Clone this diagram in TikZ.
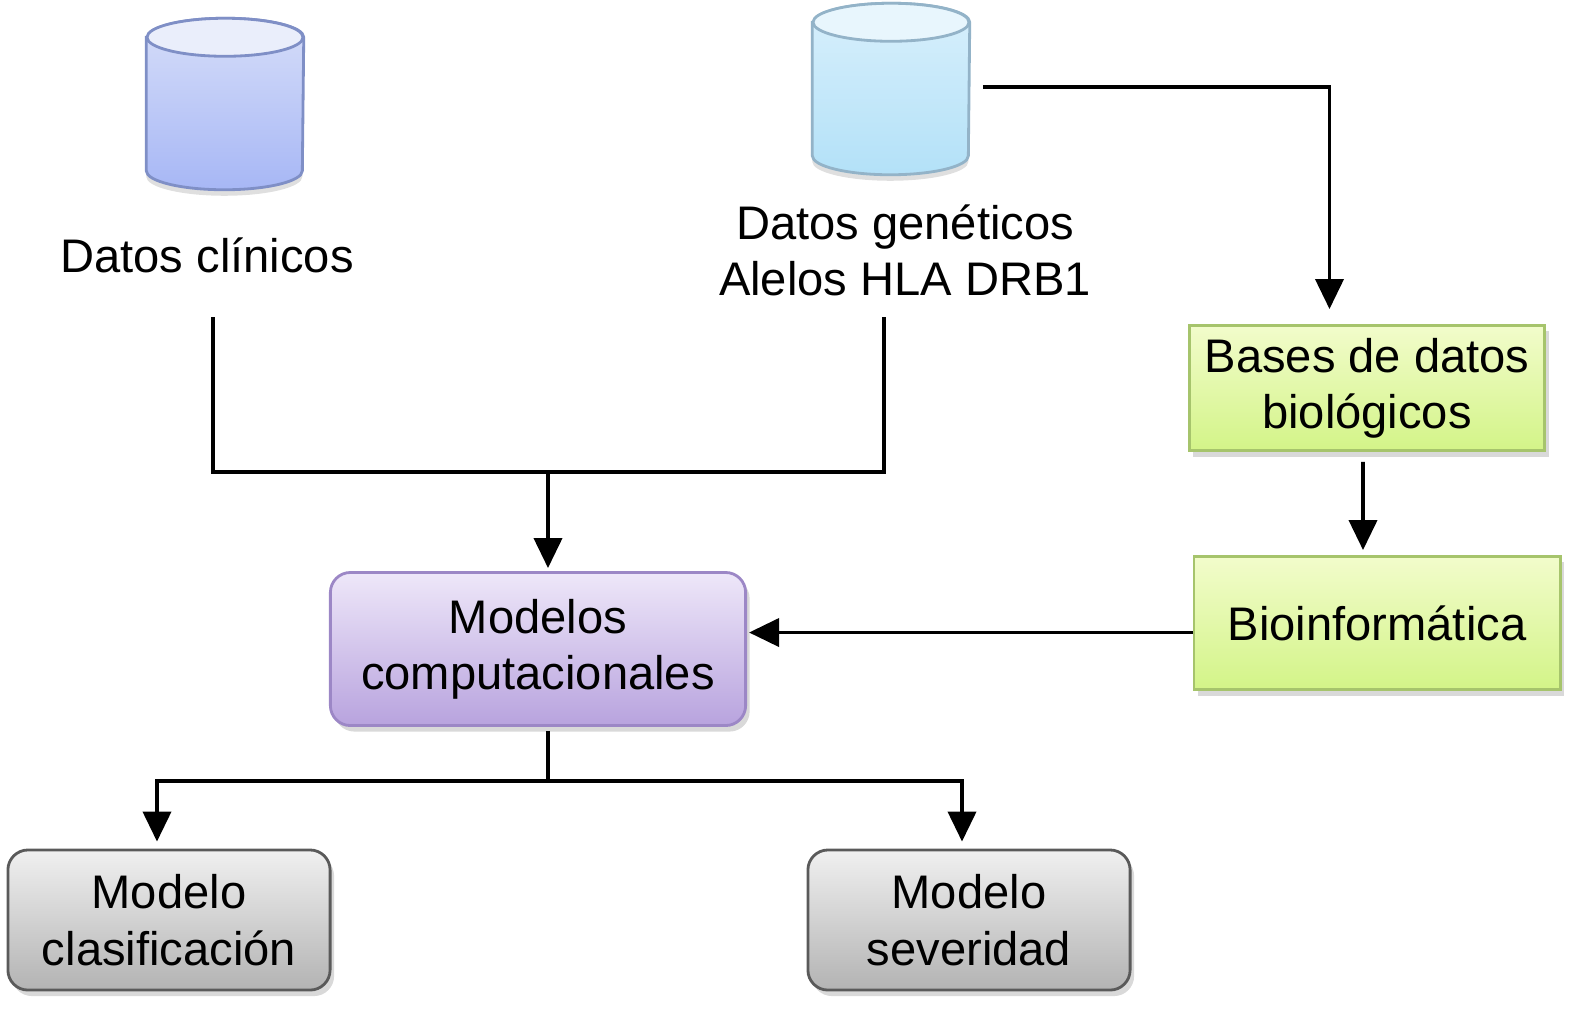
\documentclass[tikz,border=0pt]{standalone}
\usepackage{fontspec}
\setmainfont{Liberation Sans}
\usetikzlibrary{arrows.meta,shadows}
\definecolor{cylAtop}{HTML}{EAEEFB}
\definecolor{cylAbot}{HTML}{A7B7F5}
\definecolor{cylAline}{HTML}{7F8FC6}
\definecolor{cylBtop}{HTML}{E8F6FD}
\definecolor{cylBbot}{HTML}{B3E1F8}
\definecolor{cylBline}{HTML}{93B3C8}
\definecolor{greentop}{HTML}{F2FCCB}
\definecolor{greenbot}{HTML}{D3F488}
\definecolor{greenline}{HTML}{A6C46C}
\definecolor{purptop}{HTML}{EEE7F9}
\definecolor{purpbot}{HTML}{B8A3DE}
\definecolor{purpline}{HTML}{9C87C6}
\definecolor{graytop}{HTML}{F0F0F0}
\definecolor{graybot}{HTML}{B3B3B3}
\definecolor{grayline}{HTML}{5A5A5A}
% cylinder drawn round an empty node: name, top colour, bottom colour, line colour
\newcommand{\dbcyl}[4]{%
  \draw[draw=#4, line width=0.8pt, top color=#2!70!#3, bottom color=#3,
    drop shadow={opacity=0.25, shadow xshift=0pt, shadow yshift=-0.6mm}]
    ([yshift=-0.19cm]#1.north west) -- ([yshift=0.19cm]#1.south west)
    arc[start angle=180, end angle=360, x radius=0.78cm, y radius=0.19cm]
    -- ([yshift=-0.19cm]#1.north east)
    arc[start angle=0, end angle=180, x radius=0.78cm, y radius=0.19cm] -- cycle;
  \draw[draw=#4, line width=0.8pt, fill=#2]
    ([yshift=-0.19cm]#1.north) ellipse[x radius=0.78cm, y radius=0.19cm];
}
\tikzset{
  txt/.style={font=\fontsize{13.4}{16}\selectfont, align=center},
  db/.style={minimum width=1.56cm, minimum height=1.7cm, inner sep=0pt},
  boxg/.style={txt, draw=greenline, line width=0.8pt, top color=greentop, bottom color=greenbot,
    drop shadow={opacity=0.3, shadow xshift=0.4mm, shadow yshift=-0.6mm}},
  boxr/.style={txt, rounded corners=0.2cm, line width=0.8pt,
    drop shadow={opacity=0.3, shadow xshift=0.4mm, shadow yshift=-0.6mm}},
  arrow/.style={-{Triangle[width=0.28cm,length=0.3cm]}, line width=1.1pt},
  link/.style={line width=1.1pt}
}
\begin{document}
\begin{tikzpicture}[x=0.01cm, y=-0.01cm]
  \useasboundingbox (0,0) rectangle (1583,1011);
  % databases
  \node[db] (clindb) at (225,104) {};
  \node[db] (gendb) at (891,89) {};
  \dbcyl{clindb}{cylAtop}{cylAbot}{cylAline}
  \dbcyl{gendb}{cylBtop}{cylBbot}{cylBline}
  \node[txt] (clin) at (207,255) {Datos clínicos};
  \node[txt] (gen) at (905,250) {Datos genéticos\\Alelos HLA DRB1};
  % boxes
  \node[boxg, minimum width=3.55cm, minimum height=1.25cm] (bases) at (1367,388) {Bases de datos\\biológicos};
  \node[boxg, minimum width=3.66cm, minimum height=1.33cm] (bio) at (1377,623) {Bioinformática};
  \node[boxr, draw=purpline, top color=purptop, bottom color=purpbot,
    minimum width=4.15cm, minimum height=1.53cm] (model) at (538,649) {Modelos\\computacionales};
  \node[boxr, draw=grayline, top color=graytop, bottom color=graybot,
    minimum width=3.22cm, minimum height=1.4cm] (clas) at (169,920) {Modelo\\clasificación};
  \node[boxr, draw=grayline, top color=graytop, bottom color=graybot,
    minimum width=3.22cm, minimum height=1.4cm] (sev) at (969,920) {Modelo\\severidad};
  % connectors
  \coordinate (clinend) at (213,317);
  \coordinate (genend) at (884,317);
  \coordinate (join) at (548,472);
  \coordinate (split) at (548,781);
  \draw[link] (clinend) |- (join) -| (genend);
  \draw[arrow, shorten >=0.03cm] (join) -- (join |- model.north);
  \draw[arrow, shorten <=0.05cm, shorten >=0.15cm] ([xshift=0.08cm]gendb.east |- 0,87) -| ([xshift=-0.375cm]bases.north);
  \draw[arrow, shorten <=0.1cm, shorten >=0.05cm] ([xshift=-0.04cm]bases.south) -- ([xshift=-0.14cm]bio.north);
  \draw[arrow, shorten >=0.02cm] ([yshift=-0.095cm]bio.west) -- ([yshift=-0.095cm]bio.west -| model.east);
  \draw[link, shorten <=0.04cm] (split |- model.south) -- (split);
  \draw[arrow, shorten >=0.07cm] (split) -| ([xshift=-0.12cm]clas.north);
  \draw[arrow, shorten >=0.07cm] (split) -| ([xshift=-0.07cm]sev.north);
\end{tikzpicture}
\end{document}
